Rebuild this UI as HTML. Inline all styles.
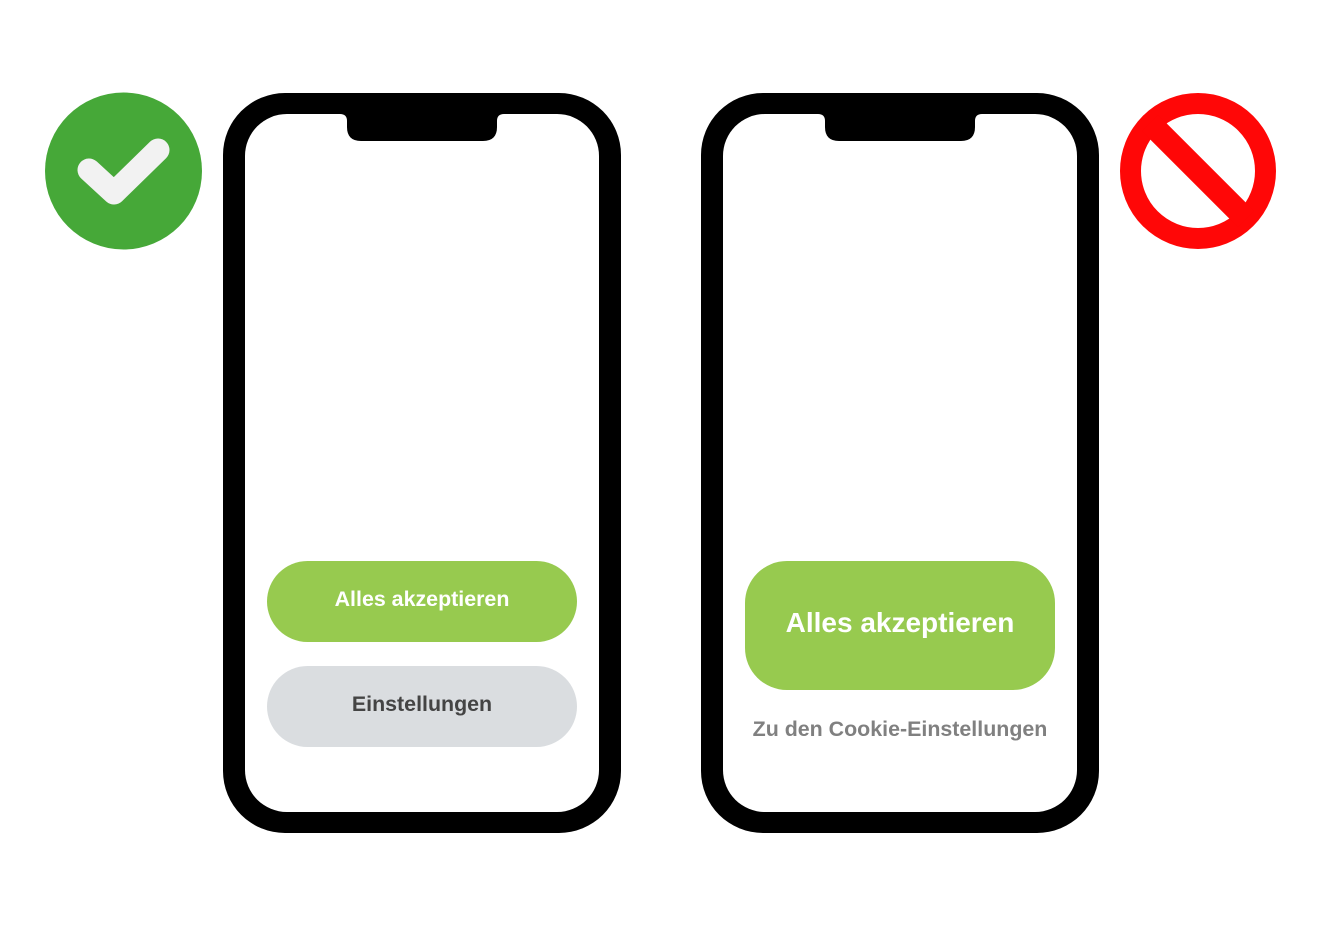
<!DOCTYPE html>
<html><head><style>
body{margin:0;width:1322px;height:926px;background:#fff;position:relative;overflow:hidden;font-family:"Liberation Sans",Arial,sans-serif}
.btn{position:absolute;display:flex;align-items:center;justify-content:center;font-weight:bold}
</style></head><body>
<svg width="1322" height="926" style="position:absolute;left:0;top:0">
<g>
<rect x="223" y="93" width="398" height="740" rx="62" fill="#000"/>
<rect x="245" y="114" width="354" height="698" rx="42" fill="#fff"/>
<path d="M340 112 H504 V114 Q497 114 497 121 V127 Q497 141 483 141 H361 Q347 141 347 127 V121 Q347 114 340 114 Z" fill="#000"/>
</g>
<g transform="translate(478,0)">
<rect x="223" y="93" width="398" height="740" rx="62" fill="#000"/>
<rect x="245" y="114" width="354" height="698" rx="42" fill="#fff"/>
<path d="M340 112 H504 V114 Q497 114 497 121 V127 Q497 141 483 141 H361 Q347 141 347 127 V121 Q347 114 340 114 Z" fill="#000"/>
</g>
<circle cx="123.5" cy="171" r="78.5" fill="#46a838"/>
<polyline points="89,170 114,193 158,150" fill="none" stroke="#f2f2f2" stroke-width="23" stroke-linecap="round" stroke-linejoin="round"/>
<circle cx="1198" cy="171" r="67.5" fill="none" stroke="#ff0707" stroke-width="21"/>
<line x1="1150" y1="123" x2="1246" y2="219" stroke="#ff0707" stroke-width="23"/>
</svg>
<div class="btn" style="left:267px;top:561px;width:310px;height:78px;border-radius:41px;background:#97ca4f;color:#fff;font-size:21.4px;height:76px;padding-bottom:5px">Alles akzeptieren</div>
<div class="btn" style="left:267px;top:666px;width:310px;height:76px;padding-bottom:5px;border-radius:41px;background:#dadde0;color:#444;font-size:21.4px">Einstellungen</div>
<div class="btn" style="left:745px;top:561px;width:310px;height:124px;padding-bottom:5px;border-radius:42px;background:#97ca4f;color:#fff;font-size:28px">Alles akzeptieren</div>
<div class="btn" style="left:700px;top:716px;width:400px;height:26px;color:#808080;font-size:21.4px">Zu den Cookie-Einstellungen</div>
</body></html>
